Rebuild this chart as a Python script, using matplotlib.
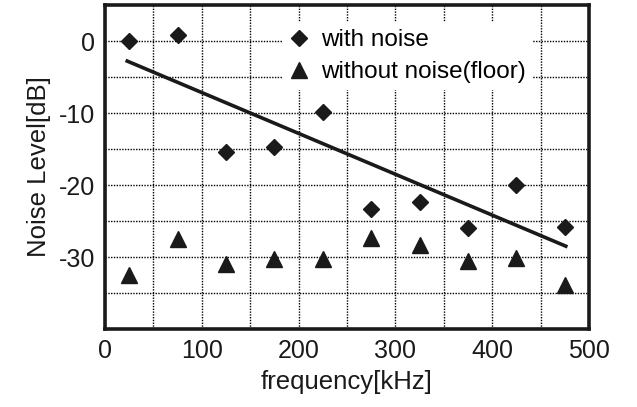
import numpy as np
import matplotlib
matplotlib.use("Agg")
import matplotlib.pyplot as plt

plt.rcParams['font.family'] = ['Liberation Sans', 'DejaVu Sans']
plt.rcParams['axes.unicode_minus'] = False

# data
freq = [25, 75, 125, 175, 225, 275, 325, 375, 425, 475]
with_noise = [0.0, 0.8, -15.4, -14.7, -9.8, -23.4, -22.3, -26.0, -20.0, -25.9]
without_noise = [-32.5, -27.5, -31.0, -30.3, -30.3, -27.4, -28.4, -30.6, -30.1, -33.9]
xticks = [0, 100, 200, 300, 400, 500]
yticks = [0, -10, -20, -30]

fig = plt.figure(figsize=(6.37, 4.07), dpi=100)
ax = fig.add_axes([0.1648, 0.1916, 0.7599, 0.7961])

# least squares line through the "with noise" points
k, b = np.polyfit(freq, with_noise, 1)
xf = np.array([freq[0] - 2, freq[-1] + 1])
ax.plot(xf, k * xf + b, color='#1a1a1a', lw=2.6, zorder=3)

ax.plot(freq, with_noise, ls='none', marker='D', ms=8, color='#1a1a1a',
        label='with noise', zorder=4)
ax.plot(freq, without_noise, ls='none', marker='^', ms=12, color='#1a1a1a',
        label='without noise(floor)', zorder=4)

ax.set_xlim(0, 500)
ax.set_ylim(-40, 5)
ax.set_xticks(xticks)
ax.set_yticks(yticks)
ax.set_xticks([v for v in range(50, 500, 100)], minor=True)
ax.set_yticks([v for v in range(-35, 5, 10)], minor=True)
ax.grid(which='both', color='black', ls=(0, (1.0, 1.0)), lw=1.0)
ax.tick_params(which='both', length=0, labelsize=18, colors='#1a1a1a', pad=7)

for s in ax.spines.values():
    s.set_linewidth(2.6)
    s.set_color('#1a1a1a')

ax.set_xlabel('frequency[kHz]', fontsize=18.5, color='#1a1a1a', labelpad=5)
ax.set_ylabel('Noise Level[dB]', fontsize=18.5, color='#1a1a1a', labelpad=6)

leg = ax.legend(loc='upper left', bbox_to_anchor=(0.35, 0.97), fontsize=17.5,
                frameon=True, fancybox=False, handlelength=0.8, handletextpad=0.5,
                borderpad=0.3, borderaxespad=0.3, labelspacing=0.4, numpoints=1)
leg.get_frame().set_edgecolor('none')
leg.get_frame().set_facecolor('white')
leg.get_frame().set_alpha(1)

fig.savefig('out.png', dpi=100)
